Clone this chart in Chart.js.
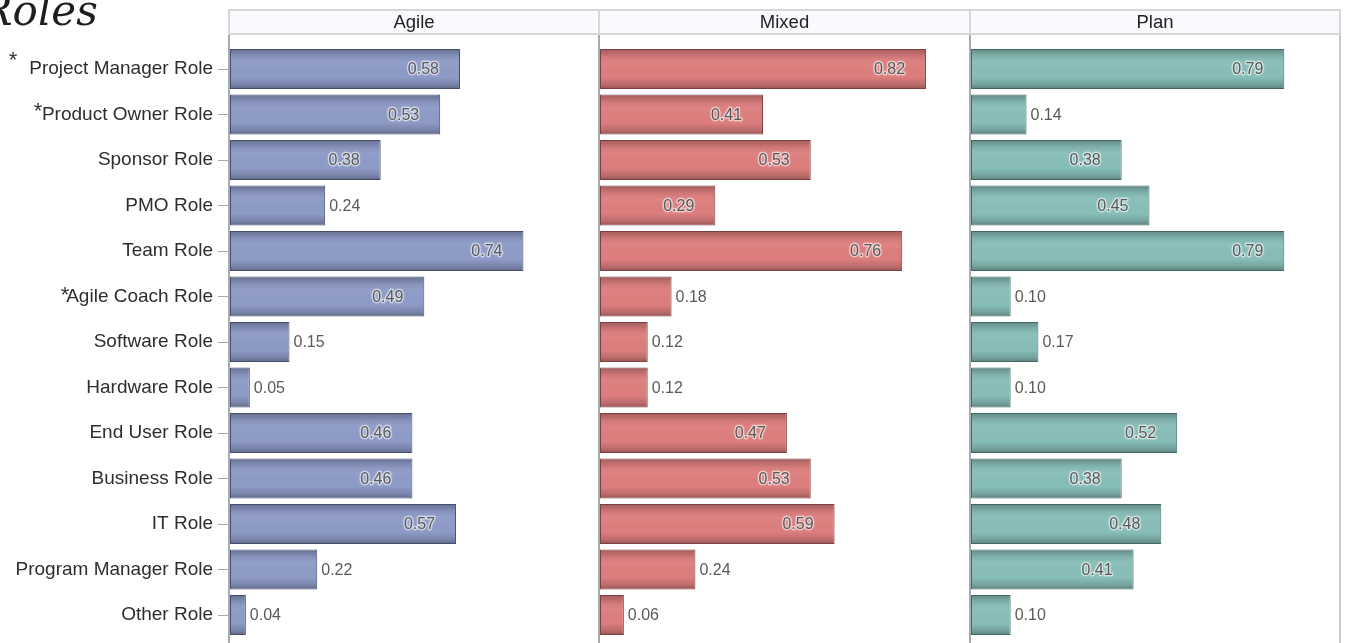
<!DOCTYPE html>
<html>
<head>
<meta charset="utf-8">
<title>Roles</title>
<script src="https://cdn.jsdelivr.net/npm/chart.js@4.4.1/dist/chart.umd.min.js"></script>
<style>
  html, body { margin: 0; padding: 0; background: #ffffff; overflow: hidden; width: 1345px; height: 643px; }
  canvas { position: absolute; left: 0; top: 0; }
</style>
</head>
<body>
<canvas id="panel0" width="1345" height="660"></canvas>
<canvas id="panel1" width="1345" height="660"></canvas>
<canvas id="panel2" width="1345" height="660"></canvas>
<script>
// Role categories, top to bottom
const categories = [
  'Project Manager Role', 'Product Owner Role', 'Sponsor Role', 'PMO Role', 'Team Role',
  'Agile Coach Role', 'Software Role', 'Hardware Role', 'End User Role', 'Business Role',
  'IT Role', 'Program Manager Role', 'Other Role'
];

// Panel names
const panelNames = ['Agile', 'Mixed', 'Plan'];

// Share of projects involving each role, per approach
const agileValues = [0.58, 0.53, 0.38, 0.24, 0.74, 0.49, 0.15, 0.05, 0.46, 0.46, 0.57, 0.22, 0.04];
const mixedValues = [0.82, 0.41, 0.53, 0.29, 0.76, 0.18, 0.12, 0.12, 0.47, 0.53, 0.59, 0.24, 0.06];
const planValues  = [0.79, 0.14, 0.38, 0.45, 0.79, 0.10, 0.17, 0.10, 0.52, 0.38, 0.48, 0.41, 0.10];

// Rows flagged with an asterisk
const starredRoles = ['Project Manager Role', 'Product Owner Role', 'Agile Coach Role'];

// ---- styling / layout ----
const FONT = "'Liberation Sans', Arial, Helvetica, sans-serif";
const panelStyles = [
  { fill: '#8e9bc7', border: '#474e70' },
  { fill: '#dd7e7e', border: '#7d4040' },
  { fill: '#88beb8', border: '#426a65' }
];
const panelLeft  = [230, 600, 971];
const panelRight = [598, 969, 1339];
const xMax = 0.928;
const insideThreshold = 0.25;
const starMarks = {
  'Project Manager Role': { x: 13, dy: -14 },
  'Product Owner Role':   { x: 38, dy: -9 },
  'Agile Coach Role':     { x: 65, dy: -7 }
};

// Header strip, panel frame lines
const panelFrame = {
  id: 'panelFrame',
  beforeDraw(chart, args, opts) {
    const { ctx, chartArea } = chart;
    const L = chartArea.left, R = chartArea.right;
    ctx.save();
    const hx = L - 2, hw = (R + 2) - hx;
    ctx.fillStyle = '#f9fafe';
    ctx.fillRect(hx, 9, hw, 26);
    ctx.strokeStyle = '#d6d6d6';
    ctx.lineWidth = 2;
    ctx.strokeRect(hx + 1, 10, hw - 2, 24);
    ctx.fillStyle = '#222';
    ctx.font = `18.5px ${FONT}`;
    ctx.textAlign = 'center';
    ctx.textBaseline = 'middle';
    ctx.fillText(opts.title, hx + hw / 2, 23);
    // left axis line of the panel
    ctx.fillStyle = '#a7acb0';
    ctx.fillRect(L - 2, 35, 2, 640);
    if (opts.last) {
      ctx.fillStyle = '#c6c9cb';
      ctx.fillRect(R, 35, 2, 640);
    }
    ctx.restore();
  }
};

// Shaded, glossy bar faces
const barGloss = {
  id: 'barGloss',
  afterDatasetsDraw(chart) {
    const ctx = chart.ctx;
    chart.getDatasetMeta(0).data.forEach(bar => {
      const { x, y, base, height } = bar.getProps(['x', 'y', 'base', 'height'], true);
      const top = y - height / 2, bottom = y + height / 2;
      const g = ctx.createLinearGradient(0, top, 0, bottom);
      g.addColorStop(0.00, 'rgba(0,0,0,0.28)');
      g.addColorStop(0.18, 'rgba(0,0,0,0.07)');
      g.addColorStop(0.35, 'rgba(255,255,255,0.03)');
      g.addColorStop(0.70, 'rgba(0,0,0,0.00)');
      g.addColorStop(0.88, 'rgba(0,0,0,0.14)');
      g.addColorStop(1.00, 'rgba(0,0,0,0.32)');
      ctx.save();
      ctx.fillStyle = g;
      ctx.fillRect(base + 1, top + 1, Math.max(0, x - base - 2), height - 2);
      ctx.restore();
    });
  }
};

// Value labels: inside long bars, outside short ones
const valueLabels = {
  id: 'valueLabels',
  afterDatasetsDraw(chart) {
    const ctx = chart.ctx;
    const values = chart.data.datasets[0].data;
    ctx.save();
    ctx.font = `16px ${FONT}`;
    ctx.textBaseline = 'middle';
    chart.getDatasetMeta(0).data.forEach((bar, i) => {
      const v = values[i];
      const text = v.toFixed(2);
      const { x, y } = bar.getProps(['x', 'y'], true);
      if (v >= insideThreshold) {
        ctx.textAlign = 'right';
        const tx = x - 21;
        ctx.save();
        ctx.lineJoin = 'round';
        ctx.shadowColor = 'rgba(255,255,255,0.8)';
        ctx.shadowBlur = 2;
        ctx.strokeStyle = 'rgba(255,255,255,0.45)';
        ctx.lineWidth = 2.5;
        ctx.strokeText(text, tx, y + 1);
        ctx.restore();
        ctx.fillStyle = '#5a5a5a';
        ctx.fillText(text, tx, y + 1);
      } else {
        ctx.textAlign = 'left';
        ctx.fillStyle = '#5a5a5a';
        ctx.fillText(text, x + 4, y + 1);
      }
    });
    ctx.restore();
  }
};

// Title and asterisk flags beside the role names
const sideNotes = {
  id: 'sideNotes',
  afterDraw(chart, args, opts) {
    if (!opts.show) return;
    const ctx = chart.ctx;
    const yScale = chart.scales.y;
    ctx.save();
    ctx.fillStyle = '#1e1e1e';
    ctx.font = `italic 42px 'DejaVu Serif', 'Liberation Serif', serif`;
    ctx.textAlign = 'left';
    ctx.textBaseline = 'alphabetic';
    ctx.fillText('Roles', -19, 25);
    ctx.fillStyle = '#333';
    ctx.font = `22px ${FONT}`;
    ctx.textAlign = 'center';
    starredRoles.forEach(role => {
      const m = starMarks[role];
      const py = yScale.getPixelForValue(categories.indexOf(role));
      ctx.fillText('*', m.x, py + m.dy + 12);
    });
    ctx.restore();
  }
};

const seriesByPanel = [agileValues, mixedValues, planValues];

panelNames.forEach((name, p) => {
  const first = p === 0;
  const yAxis = {
    type: 'category',
    offset: true,
    display: first,
    grid: {
      offset: false,
      drawOnChartArea: false,
      drawTicks: true,
      tickLength: 12,
      color: '#a9a9a9',
      lineWidth: 1
    },
    border: { display: false },
    ticks: {
      autoSkip: false,
      padding: 5,
      color: '#2e2e2e',
      font: { family: FONT, size: 19 }
    }
  };
  if (first) {
    yAxis.afterFit = scale => { scale.width = panelLeft[0]; };
  }
  new Chart(document.getElementById('panel' + p), {
    type: 'bar',
    data: {
      labels: categories,
      datasets: [{
        label: name,
        data: seriesByPanel[p],
        backgroundColor: panelStyles[p].fill,
        borderColor: panelStyles[p].border,
        borderWidth: 1,
        borderSkipped: false,
        barPercentage: 0.88,
        categoryPercentage: 1.0
      }]
    },
    options: {
      indexAxis: 'y',
      responsive: false,
      animation: false,
      devicePixelRatio: 1,
      layout: {
        padding: {
          top: 46.25,
          bottom: 22.25,
          left: first ? 0 : panelLeft[p],
          right: 1345 - panelRight[p]
        }
      },
      scales: {
        x: { type: 'linear', min: 0, max: xMax, display: false },
        y: yAxis
      },
      plugins: {
        legend: { display: false },
        tooltip: { enabled: false },
        title: { display: false },
        panelFrame: { title: name, last: p === panelNames.length - 1 },
        sideNotes: { show: first }
      }
    },
    plugins: [panelFrame, barGloss, valueLabels, sideNotes]
  });
});
</script>
</body>
</html>
